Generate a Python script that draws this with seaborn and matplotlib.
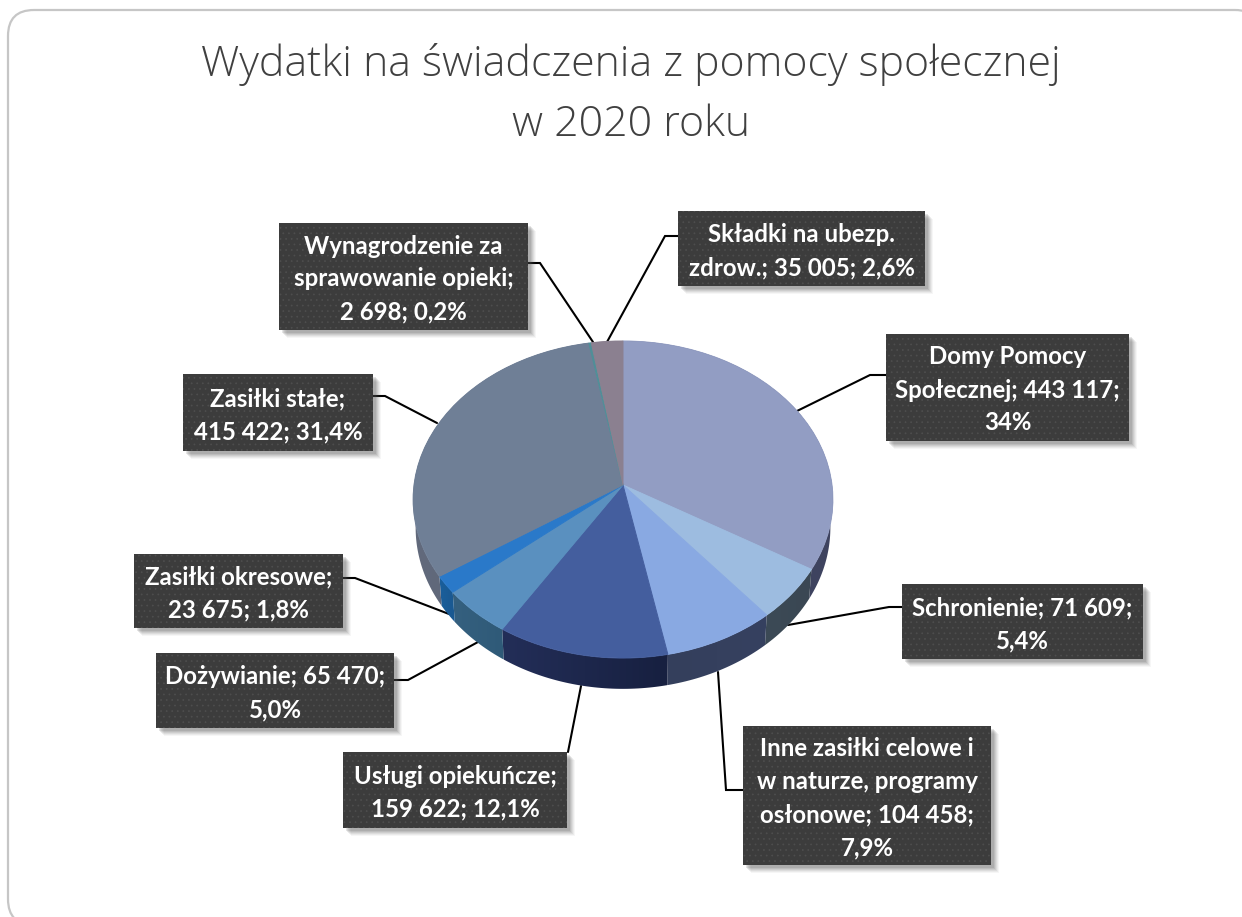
import numpy as np
import matplotlib
matplotlib.use("Agg")
import matplotlib.pyplot as plt
from matplotlib.colors import to_rgb
from matplotlib.patches import FancyBboxPatch, Rectangle, Polygon
from matplotlib.transforms import Transform
import seaborn as sns

categories = ["Domy Pomocy Społecznej", "Schronienie", "Inne zasiłki celowe i w naturze, programy osłonowe",
              "Usługi opiekuńcze", "Dożywianie", "Zasiłki okresowe", "Zasiłki stałe",
              "Wynagrodzenie za sprawowanie opieki", "Składki na ubezp. zdrow."]
values = [443117, 71609, 104458, 159622, 65470, 23675, 415422, 2698, 35005]
label_lines = [
    ["Domy Pomocy", "Społecznej; 443 117;", "34%"],
    ["Schronienie; 71 609;", "5,4%"],
    ["Inne zasiłki celowe i", "w naturze, programy", "osłonowe; 104 458;", "7,9%"],
    ["Usługi opiekuńcze;", "159 622; 12,1%"],
    ["Dożywianie; 65 470;", "5,0%"],
    ["Zasiłki okresowe;", "23 675; 1,8%"],
    ["Zasiłki stałe;", "415 422; 31,4%"],
    ["Wynagrodzenie za", "sprawowanie opieki;", "2 698; 0,2%"],
    ["Składki na ubezp.", "zdrow.; 35 005; 2,6%"],
]
title_lines = ["Wydatki na świadczenia z pomocy społecznej", "w 2020 roku"]

top_colors = ["#929dc3", "#9dbce0", "#89a9e2", "#445e9e", "#5a90bf", "#2a79c9", "#6f7f96", "#4f8f98", "#8b8090"]
side_left = ["#3a3f58", "#3c4a56", "#343f5c", "#232e58", "#35607f", "#1a5f9c", "#626a7c", "#4f8f98", "#6b6070"]
side_right = ["#3f4460", "#3a4753", "#364160", "#172040", "#2f5a78", "#1a5890", "#565f72", "#4f8f98", "#6b6070"]

# label box: x0, y0, x1, y1 in figure pixels
boxes = [(886, 334, 1129, 441), (902, 584, 1143, 659), (743, 726, 991, 865), (343, 752, 567, 828),
         (156, 653, 394, 728), (134, 554, 343, 628), (183, 374, 373, 451), (279, 223, 528, 330),
         (678, 211, 925, 286)]
leaders = [
    [(886, 375), (870, 375), (797, 411)],
    [(902, 607), (889, 607), (788, 625)],
    [(743, 790), (726, 790), (718, 672)],
    [(568, 752), (581, 686)],
    [(394, 680), (408, 680), (478, 642)],
    [(343, 578), (355, 578), (449, 614)],
    [(373, 396), (385, 396), (437, 423)],
    [(528, 263), (540, 263), (593, 342)],
    [(678, 236), (665, 236), (607, 342)],
]

W, H = 1242, 917
CX, CY, RX, RY, K, DEPTH, SHRINK = 623.0, 485.0, 209.0, 157.2, 0.0915, 28.0, 0.988


class Perspective(Transform):
    """Unit-circle pie plane seen from above, in figure pixels."""
    input_dims = output_dims = 2

    def transform_non_affine(self, xy):
        xy = np.asarray(xy, float)
        w = 1 + K * xy[:, 1]
        return np.column_stack([CX + RX * xy[:, 0] / w, CY - RY * xy[:, 1] / w])


sns.set_theme(style="white")
plt.rcParams["font.family"] = ["Lato", "DejaVu Sans"]
plt.rcParams["hatch.linewidth"] = 0.5
palette = sns.color_palette(top_colors)

fig = plt.figure(figsize=(W / 100, H / 100), dpi=100, facecolor="white")
ax = fig.add_axes([0, 0, 1, 1])

wedges, _ = ax.pie(values, colors=palette, startangle=90, counterclock=False)
ax.add_patch(FancyBboxPatch((8, 10), 1253, 915, boxstyle="round,pad=0,rounding_size=26",
                            fc="white", ec="#c6c6c6", lw=1.6, zorder=0, clip_on=False))

persp = Perspective()
for w, col in zip(wedges, palette):
    w.set_transform(persp + ax.transData)
    w.set_zorder(3)
    w.set_clip_on(False)
    w.set_edgecolor(col)
    w.set_linewidth(0.7)

# extruded wall of the pie: a left-to-right shade clipped to each slice's outline
fractions = np.cumsum([0] + values) / sum(values)
for i in range(len(values)):
    t = np.linspace(fractions[i], fractions[i + 1], max(6, int(400 * (fractions[i + 1] - fractions[i]))))
    a = 2 * np.pi * t
    pts = persp.transform_non_affine(np.column_stack([np.sin(a), np.cos(a)]))
    low = np.column_stack([CX + (pts[:, 0] - CX) * SHRINK, pts[:, 1] + DEPTH / (1 + K * np.cos(a))])
    outline = np.vstack([pts, low[::-1]])
    x0, x1 = outline[:, 0].min(), outline[:, 0].max()
    y0, y1 = outline[:, 1].min(), outline[:, 1].max()
    shade = np.linspace(np.array(to_rgb(side_left[i])), np.array(to_rgb(side_right[i])), 64)[None, :, :]
    im = ax.imshow(shade, extent=(x0, x1, y1, y0), aspect="auto", zorder=2, interpolation="bilinear")
    im.set_clip_path(Polygon(outline, closed=True, transform=ax.transData))

ax.set_aspect("auto")
ax.set_xlim(0, W)
ax.set_ylim(H, 0)
ax.axis("off")

# leader lines
for pts in leaders:
    xs, ys = zip(*pts)
    ax.plot(xs, ys, color="black", lw=1.5, zorder=1, solid_joinstyle="miter")

# label boxes
for (x0, y0, x1, y1), lines in zip(boxes, label_lines):
    for off, alpha in [(8, .05), (7, .07), (6, .09), (5, .11), (4, .13), (3, .15)]:
        ax.add_patch(Rectangle((x0 + off, y0 + off), x1 - x0, y1 - y0, fc="#555555", alpha=alpha, lw=0, zorder=4))
    ax.add_patch(Rectangle((x0, y0), x1 - x0, y1 - y0, fc="#3c3c3c", ec="#4e4e4e", hatch="...", lw=0, zorder=5))
    cx = (x0 + x1) / 2
    pitch = 33
    start = (y0 + y1) / 2 - pitch * (len(lines) - 1) / 2 + 2.5
    for k, line in enumerate(lines):
        ax.text(cx, start + k * pitch, line, ha="center", va="center", color="white",
                fontsize=17.3, fontweight="bold", zorder=6)

for y, line in zip((65, 125), title_lines):
    ax.text(631, y, line, ha="center", va="center", color="#404040", fontsize=30.9,
            fontfamily=["Open Sans", "DejaVu Sans"], fontweight="light", zorder=6)

fig.savefig("out.png", dpi=100, facecolor="white")
